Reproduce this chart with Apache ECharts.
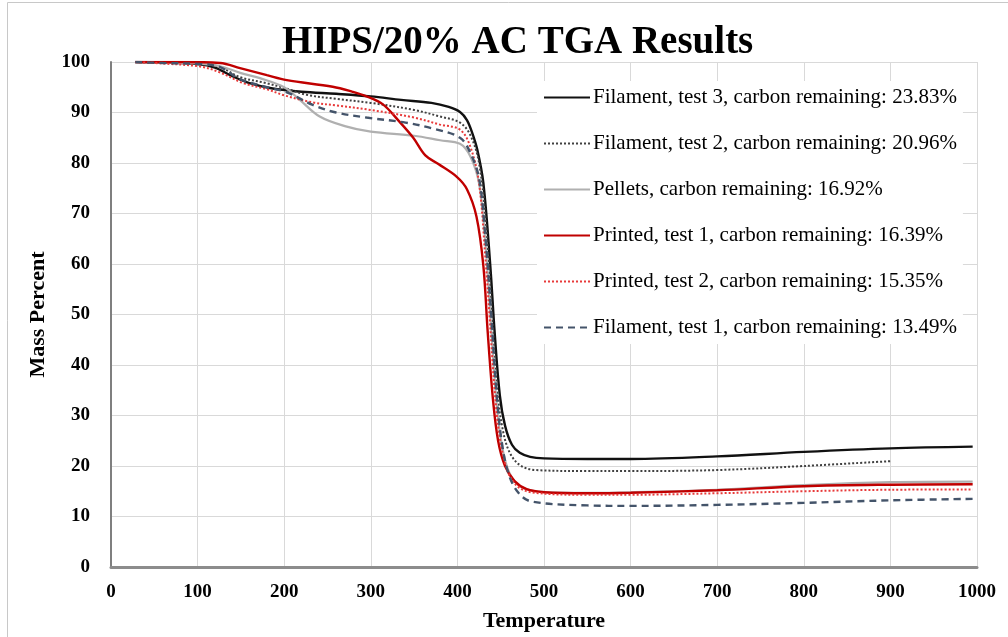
<!DOCTYPE html>
<html>
<head>
<meta charset="utf-8">
<script src="https://cdn.jsdelivr.net/npm/echarts@6/dist/echarts.min.js"></script>
<style>
html, body { margin: 0; padding: 0; background: #fff; }
#main { width: 1008px; height: 637px; }
</style>
</head>
<body>
<div id="main"></div>
<script>
// TGA curves, [temperature, mass percent]
var filamentTest3 = [[28,100],[60,99.9],[100,99.6],[120,98.9],[140,97.2],[160,95.8],[185,94.8],[220,94.1],[260,93.7],[300,93.2],[335,92.5],[370,91.9],[390,91.1],[403,90.1],[411,88.5],[417,86],[423,82.6],[430,76],[438,59.6],[443,46.5],[449,34],[455,28],[463,24.2],[472,22.6],[484,21.8],[500,21.5],[550,21.4],[600,21.4],[700,21.9],[800,22.8],[900,23.5],[995,23.83]];
var filamentTest2 = [[28,100],[60,99.9],[103,99.8],[126,99],[149,97],[180,95.8],[203,94.7],[226,93.5],[260,92.7],[300,91.9],[350,90.5],[380,89.2],[403,88],[415,85.5],[425,80],[433,68],[440,50],[446,35],[452,27.5],[460,22.8],[472,20.2],[490,19.2],[550,19],[600,19],[700,19.2],[800,20],[900,20.96]];
var pellets = [[28,100],[60,99.9],[100,99.7],[125,99.2],[150,97.8],[172,96.8],[200,95],[218,92.5],[241,89.2],[270,87.3],[300,86.2],[350,85.4],[380,84.5],[403,83.8],[415,81.3],[425,76],[432,65],[438,50],[444,35],[450,25.5],[458,19.5],[470,16.3],[490,15],[550,14.7],[600,14.8],[700,15.3],[800,16.2],[900,16.8],[995,16.92]];
var printedTest1 = [[28,100],[80,100],[126,99.8],[149,98.8],[180,97.4],[203,96.4],[256,95.1],[279,94.1],[295,93.2],[314,91.6],[333,88.2],[349,85],[363,81.5],[378,79.8],[399,77.3],[411,74.8],[422,69.4],[430,59.6],[435,46.5],[441,33.3],[447,25],[455,20],[466,17],[480,15.4],[500,14.8],[550,14.6],[600,14.7],[700,15.2],[800,16],[900,16.3],[995,16.39]];
var printedTest2 = [[28,100],[60,99.7],[103,99.1],[125,98],[153,95.8],[180,94.6],[200,93.4],[233,92],[260,91.4],[300,90.5],[350,89],[380,87.6],[403,86.6],[415,83.2],[425,76],[432,62],[437,50],[443,35],[449,25.5],[457,19.5],[468,16.2],[485,14.8],[550,14.3],[600,14.3],[700,14.6],[800,15],[900,15.3],[995,15.35]];
var filamentTest1 = [[28,100],[60,99.8],[103,99.6],[126,99],[149,96.6],[180,95],[203,94],[233,91.5],[260,90],[295,89],[340,88],[372,86.8],[403,85],[415,82],[425,77],[432,66],[439,50],[445,35],[451,25],[459,18.5],[470,14.8],[485,13],[550,12.2],[600,12.1],[700,12.3],[800,12.7],[900,13.2],[995,13.49]];

var seriesNames = [
    'Filament, test 3, carbon remaining: 23.83%',
    'Filament, test 2, carbon remaining: 20.96%',
    'Pellets, carbon remaining: 16.92%',
    'Printed, test 1, carbon remaining: 16.39%',
    'Printed, test 2, carbon remaining: 15.35%',
    'Filament, test 1, carbon remaining: 13.49%'
];

var serif = 'Liberation Serif';

function curve(name, data, color, width, type) {
    return {
        name: name,
        type: 'line',
        data: data,
        smooth: 0.35,
        symbol: 'none',
        color: color,
        lineStyle: {color: color, width: width, type: type}
    };
}

var myChart = echarts.init(document.getElementById('main'));
var option = {
    backgroundColor: '#fff',
    animation: false,
    title: {
        text: 'HIPS/20% AC TGA Results',
        left: 277,
        top: 18,
        textStyle: {fontFamily: serif, fontWeight: 'bold', fontSize: 39, color: '#000'}
    },
    graphic: [{
        type: 'rect',
        shape: {x: 7.5, y: 2.5, width: 1010, height: 640},
        style: {fill: 'none', stroke: '#c8c8c8', lineWidth: 1},
        silent: true
    }],
    legend: {
        orient: 'vertical',
        left: 537,
        top: 81,
        padding: [6, 6, 6, 6],
        itemGap: 25,
        itemWidth: 46,
        itemHeight: 20,
        backgroundColor: '#fff',
        itemStyle: {opacity: 0},
        data: seriesNames,
        textStyle: {fontFamily: serif, fontSize: 21, color: '#000', padding: [0, 0, 0, -2]}
    },
    grid: {left: 111, right: 31, top: 62, bottom: 68},
    xAxis: {
        type: 'value',
        min: 0,
        max: 1000,
        interval: 100,
        name: 'Temperature',
        nameLocation: 'middle',
        nameGap: 43,
        nameTextStyle: {fontFamily: serif, fontWeight: 'bold', fontSize: 22, color: '#000'},
        axisLine: {show: true, lineStyle: {color: '#8c8c8c', width: 3}},
        axisTick: {show: false},
        axisLabel: {
            fontFamily: serif, fontWeight: 'bold', fontSize: 19, color: '#000', margin: 16,
            formatter: function (v) { return String(v); }
        },
        splitLine: {show: true, lineStyle: {color: '#d9d9d9', width: 1}}
    },
    yAxis: {
        type: 'value',
        min: 0,
        max: 100,
        interval: 10,
        name: 'Mass Percent',
        nameLocation: 'middle',
        nameGap: 62,
        nameRotate: 90,
        nameTextStyle: {fontFamily: serif, fontWeight: 'bold', fontSize: 22, color: '#000'},
        axisLine: {show: true, lineStyle: {color: '#7f7f7f', width: 2}},
        axisTick: {show: false},
        axisLabel: {fontFamily: serif, fontWeight: 'bold', fontSize: 19, color: '#000', margin: 21},
        splitLine: {show: true, lineStyle: {color: '#d9d9d9', width: 1}}
    },
    series: [
        curve(seriesNames[0], filamentTest3, '#111111', 2.4, 'solid'),
        curve(seriesNames[1], filamentTest2, '#404040', 2, 'dotted'),
        curve(seriesNames[2], pellets, '#b0b0b0', 2.2, 'solid'),
        curve(seriesNames[3], printedTest1, '#c00000', 2.4, 'solid'),
        curve(seriesNames[4], printedTest2, '#e83a3a', 2, 'dotted'),
        curve(seriesNames[5], filamentTest1, '#44546a', 2.4, [7, 5])
    ]
};
myChart.setOption(option);
window.onresize = myChart.resize;
</script>
</body>
</html>
